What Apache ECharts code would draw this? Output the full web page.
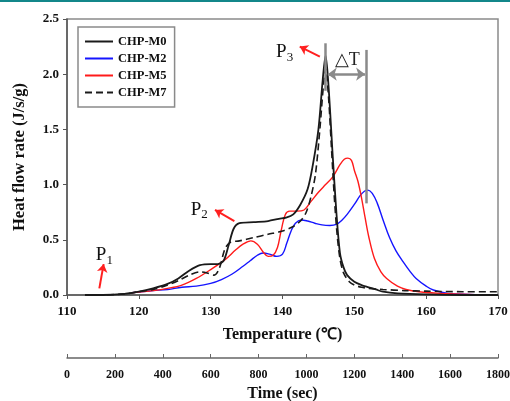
<!DOCTYPE html>
<html>
<head>
<meta charset="utf-8">
<script src="https://cdn.jsdelivr.net/npm/echarts@6/dist/echarts.min.js"></script>
<style>
  html, body { margin: 0; padding: 0; background: #fff; }
  #chart { width: 510px; height: 401px; }
</style>
</head>
<body>
<div id="chart"></div>
<script>
// temperature (°C) and heat flow (J/s/g)
var m0T = [112.5, 115, 118, 120, 122, 124, 125.5, 127, 128.5, 130, 131, 131.8, 132.5, 133.2, 134, 136, 138, 139.5, 140.5, 141.5, 142.5, 143.5, 144.2, 145, 145.6, 146, 146.4, 147, 147.5, 148, 148.5, 149, 150, 151, 152, 153, 154, 156, 160, 165, 170];
var m0V = [0, 0, 0.01, 0.03, 0.06, 0.1, 0.15, 0.22, 0.27, 0.28, 0.28, 0.31, 0.45, 0.6, 0.65, 0.66, 0.67, 0.69, 0.7, 0.73, 0.82, 0.96, 1.17, 1.5, 1.95, 2.17, 1.9, 1.25, 0.75, 0.38, 0.25, 0.18, 0.12, 0.09, 0.07, 0.05, 0.03, 0.015, 0.005, 0, 0];

var m2T = [119, 122, 124, 126, 128, 130, 131.5, 133, 134.5, 135.5, 136.5, 137.3, 138.2, 139.2, 140, 140.6, 141.2, 141.8, 142.6, 143.5, 144.5, 145.5, 146.6, 147.5, 148.3, 149, 150, 150.8, 151.4, 151.9, 152.5, 153.2, 154, 154.9, 155.8, 156.8, 157.8, 158.6, 160, 161, 163, 166, 170];
var m2V = [0.02, 0.04, 0.05, 0.07, 0.08, 0.105, 0.14, 0.19, 0.26, 0.31, 0.36, 0.38, 0.37, 0.35, 0.37, 0.47, 0.58, 0.65, 0.68, 0.67, 0.65, 0.635, 0.63, 0.64, 0.68, 0.73, 0.82, 0.9, 0.94, 0.95, 0.92, 0.83, 0.68, 0.52, 0.4, 0.3, 0.21, 0.15, 0.08, 0.045, 0.015, 0.005, 0];

var m5T = [119, 122, 124, 126, 128, 130, 132, 133.5, 134.5, 135.6, 136.5, 137.3, 138, 138.7, 139.3, 139.8, 140.4, 141, 142, 143, 144, 145, 146, 147, 148, 148.6, 149.1, 149.6, 150, 150.5, 151, 151.5, 152, 152.8, 153.7, 154.5, 156, 157.2, 159, 162, 166, 170];
var m5V = [0.02, 0.04, 0.06, 0.09, 0.15, 0.23, 0.32, 0.41, 0.46, 0.49, 0.46, 0.39, 0.35, 0.36, 0.43, 0.58, 0.73, 0.76, 0.76, 0.77, 0.85, 0.93, 1.0, 1.07, 1.18, 1.23, 1.24, 1.22, 1.13, 1.03, 0.88, 0.7, 0.53, 0.33, 0.21, 0.15, 0.08, 0.05, 0.03, 0.015, 0.005, 0];

var m7T = [112.5, 115, 118, 120, 122, 124, 125.5, 127, 128.5, 129.5, 130.5, 131.2, 132, 132.8, 134, 136, 138, 140, 141.5, 142.5, 143.3, 144, 144.6, 145.2, 145.7, 146, 146.4, 146.8, 147.2, 147.6, 148, 148.5, 149.3, 150, 151, 152, 154, 157, 160, 165, 170];
var m7V = [0, 0, 0.01, 0.03, 0.05, 0.09, 0.13, 0.18, 0.21, 0.2, 0.18, 0.24, 0.42, 0.48, 0.49, 0.52, 0.55, 0.58, 0.62, 0.67, 0.75, 0.9, 1.1, 1.5, 1.9, 2.05, 1.8, 1.35, 0.9, 0.55, 0.33, 0.2, 0.12, 0.09, 0.07, 0.06, 0.05, 0.04, 0.035, 0.03, 0.03];

var seriesNames = ["CHP-M0", "CHP-M2", "CHP-M5", "CHP-M7"];
var tempTicks = [110, 170, 10];
var timeTicks = [0, 1800, 200];

function pairs(t, v) {
  return t.map(function (x, i) { return [x, v[i]]; });
}

var serif = "Liberation Serif";
var sub = {
  p: { fontFamily: serif, fontSize: 19, color: "#111" },
  s: { fontFamily: serif, fontSize: 13, color: "#111", padding: [10, 0, 0, 0] }
};

var chart = echarts.init(document.getElementById("chart"));
chart.setOption({
  animation: false,
  backgroundColor: "#fff",
  textStyle: { fontFamily: serif },
  graphic: [
    { type: "rect", shape: { x: 0, y: 0, width: 510, height: 2 }, style: { fill: "#13878a" } }
  ],
  grid: {
    left: 67, right: 12, top: 19, bottom: 106,
    outerBoundsMode: "none", containLabel: false,
    show: true, borderColor: "#8a8a8a", borderWidth: 1.5
  },
  legend: {
    data: seriesNames,
    orient: "vertical",
    left: 78, top: 27,
    padding: [8, 8, 8, 6],
    itemWidth: 28, itemHeight: 12, itemGap: 4,
    itemStyle: { opacity: 0 },
    borderColor: "#8a8a8a", borderWidth: 1.5,
    textStyle: { fontFamily: serif, fontWeight: "bold", fontSize: 12.5, color: "#111" }
  },
  xAxis: [
    {
      type: "value", min: tempTicks[0], max: tempTicks[1], interval: tempTicks[2],
      name: "Temperature (℃)", nameLocation: "middle", nameGap: 32,
      nameTextStyle: { fontFamily: serif, fontWeight: "bold", fontSize: 16, color: "#111" },
      axisLine: { lineStyle: { color: "#555", width: 1.5 } },
      axisTick: { length: 4, lineStyle: { color: "#555" } },
      axisLabel: { margin: 10, fontFamily: serif, fontWeight: "bold", fontSize: 13, color: "#111" },
      splitLine: { show: false }
    },
    {
      type: "value", position: "bottom", offset: 63,
      min: timeTicks[0], max: timeTicks[1], interval: timeTicks[2],
      name: "Time (sec)", nameLocation: "middle", nameGap: 27,
      nameTextStyle: { fontFamily: serif, fontWeight: "bold", fontSize: 16, color: "#111" },
      axisLine: { show: true, lineStyle: { color: "#666", width: 1.5 } },
      axisTick: { show: true, inside: true, length: 4, lineStyle: { color: "#666" } },
      axisLabel: {
        margin: 11, fontFamily: serif, fontWeight: "bold", fontSize: 12, color: "#111",
        formatter: function (v) { return String(v); }
      },
      splitLine: { show: false }
    }
  ],
  yAxis: {
    type: "value", min: 0, max: 2.5, interval: 0.5,
    name: "Heat flow rate (J/s/g)", nameLocation: "middle", nameGap: 39,
    nameTextStyle: { fontFamily: serif, fontWeight: "bold", fontSize: 16.5, color: "#111" },
    axisLine: { show: true, lineStyle: { color: "#555", width: 1.5 } },
    axisTick: { show: true, length: 4, lineStyle: { color: "#555" } },
    axisLabel: {
      margin: 8, fontFamily: serif, fontWeight: "bold", fontSize: 13, color: "#111",
      formatter: function (v) { return v.toFixed(1); }
    },
    splitLine: { show: false }
  },
  series: [
    {
      name: "CHP-M0", type: "line", data: pairs(m0T, m0V), smooth: 0.3, symbol: "none", z: 4,
      lineStyle: { color: "#1a1a1a", width: 1.8 }, itemStyle: { color: "#1a1a1a" }
    },
    {
      name: "CHP-M2", type: "line", data: pairs(m2T, m2V), smooth: 0.4, symbol: "none", z: 2,
      lineStyle: { color: "#1515ff", width: 1.4 }, itemStyle: { color: "#1515ff" }
    },
    {
      name: "CHP-M5", type: "line", data: pairs(m5T, m5V), smooth: 0.35, symbol: "none", z: 2,
      lineStyle: { color: "#ff1a1a", width: 1.4 }, itemStyle: { color: "#ff1a1a" }
    },
    {
      name: "CHP-M7", type: "line", data: pairs(m7T, m7V), smooth: 0.3, symbol: "none", z: 3,
      lineStyle: { color: "#1a1a1a", width: 1.6, type: [7, 4] }, itemStyle: { color: "#1a1a1a" }
    },
    {
      // annotations: P1/P2/P3 arrows and the ΔT bracket
      name: "anno", type: "line", data: [], z: 5,
      markLine: {
        silent: true, animation: false,
        label: { show: false },
        data: [
          [{ coord: [146.0, 2.28], symbol: "none", lineStyle: { color: "#8a8a8a", width: 2.5, type: "solid" } },
           { coord: [146.0, 1.85], symbol: "none" }],
          [{ coord: [151.7, 2.22], symbol: "none", lineStyle: { color: "#8a8a8a", width: 2.5, type: "solid" } },
           { coord: [151.7, 0.83], symbol: "none" }],
          [{ coord: [146.3, 2.0], symbol: "arrow", symbolSize: [10, 9], lineStyle: { color: "#8a8a8a", width: 2.5, type: "solid" } },
           { coord: [151.5, 2.0], symbol: "arrow", symbolSize: [10, 9] }],
          [{ coord: [145.2, 2.16], symbol: "none", lineStyle: { color: "#ff2020", width: 2, type: "solid" } },
           { coord: [142.4, 2.25], symbol: "arrow", symbolSize: [8, 8] }],
          [{ coord: [133.3, 0.67], symbol: "none", lineStyle: { color: "#ff2020", width: 2, type: "solid" } },
           { coord: [130.6, 0.77], symbol: "arrow", symbolSize: [8, 8] }],
          [{ coord: [114.5, 0.06], symbol: "none", lineStyle: { color: "#ff2020", width: 2, type: "solid" } },
           { coord: [115.1, 0.28], symbol: "arrow", symbolSize: [8, 8] }]
        ]
      },
      markPoint: {
        silent: true, animation: false,
        symbol: "circle", symbolSize: 0,
        label: { show: true, position: "inside" },
        data: [
          { coord: [140.3, 2.2], label: { formatter: "{p|P}{s|3}", rich: sub } },
          { coord: [128.4, 0.77], label: { formatter: "{p|P}{s|2}", rich: sub } },
          { coord: [115.2, 0.36], label: { formatter: "{p|P}{s|1}", rich: sub } },
          { coord: [149.0, 2.13], label: { formatter: "△T", fontFamily: serif, fontSize: 18, color: "#222" } }
        ]
      }
    }
  ]
});
</script>
</body>
</html>
